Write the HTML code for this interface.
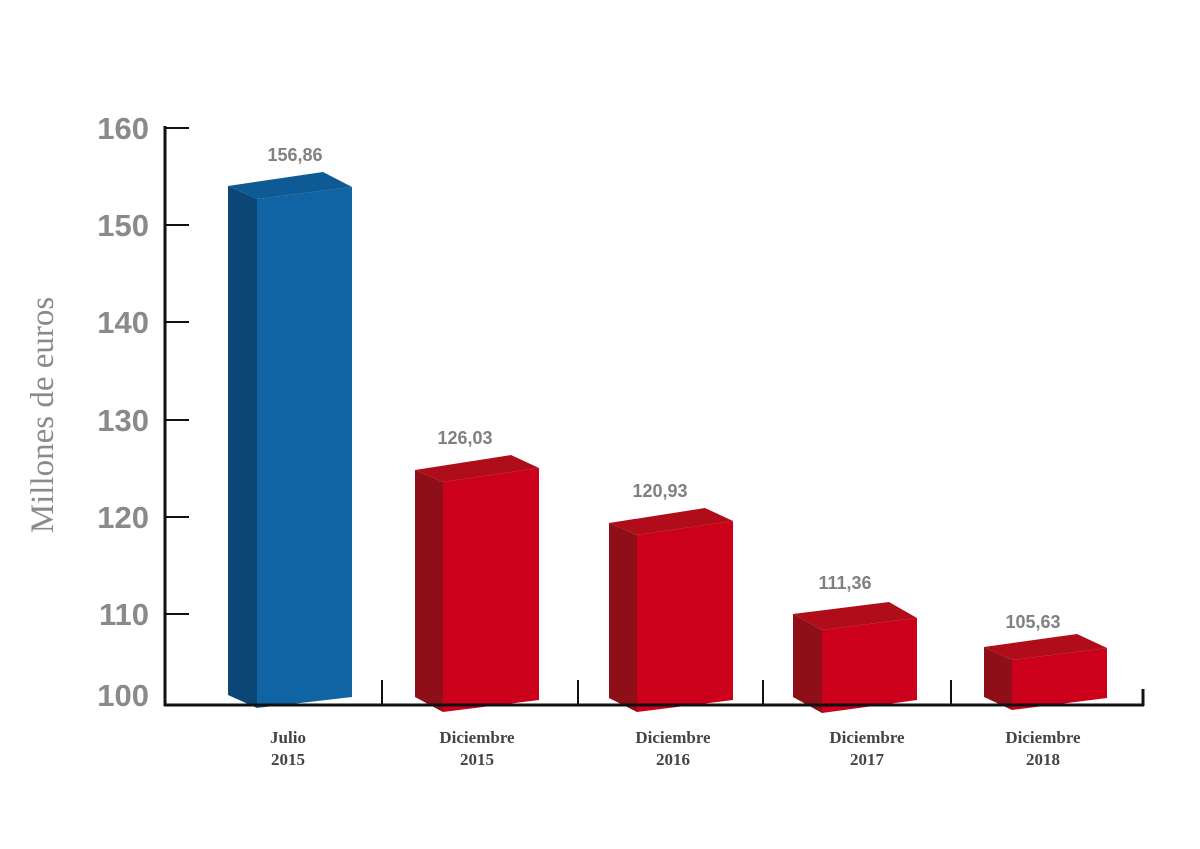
<!DOCTYPE html>
<html><head><meta charset="utf-8"><style>
html,body{margin:0;padding:0;background:#fff;}
svg{display:block;}
</style></head><body>
<svg width="1200" height="849" viewBox="0 0 1200 849" xmlns="http://www.w3.org/2000/svg">
<rect width="1200" height="849" fill="#fff"/>
<polygon points="228,186 257,199 257,708 228,695" fill="#0b4676"/>
<polygon points="257,199 352,187 352,697 257,708" fill="#1064a3"/>
<polygon points="228,186 323,172 352,187 257,199" fill="#0d5a94"/>
<polygon points="415,470 443,482 443,712 415,697" fill="#8e0f18"/>
<polygon points="443,482 539,468 539,700 443,712" fill="#cc001a"/>
<polygon points="415,470 511,455 539,468 443,482" fill="#b00d1a"/>
<polygon points="609,523 637,535 637,712 609,698" fill="#8e0f18"/>
<polygon points="637,535 733,521 733,700 637,712" fill="#cc001a"/>
<polygon points="609,523 705,508 733,521 637,535" fill="#b00d1a"/>
<polygon points="793,614 822,630 822,713 793,697" fill="#8e0f18"/>
<polygon points="822,630 917,618 917,700 822,713" fill="#cc001a"/>
<polygon points="793,614 889,602 917,618 822,630" fill="#b00d1a"/>
<polygon points="984,647 1012,660 1012,710 984,697" fill="#8e0f18"/>
<polygon points="1012,660 1107,648 1107,698 1012,710" fill="#cc001a"/>
<polygon points="984,647 1077,634 1107,648 1012,660" fill="#b00d1a"/>
<g stroke="#111" fill="none">
<line x1="165" y1="126" x2="165" y2="706" stroke-width="3"/>
<line x1="164" y1="705" x2="1144" y2="705" stroke-width="3"/>
<line x1="1143" y1="689" x2="1143" y2="706" stroke-width="3"/>
<g stroke-width="2">
<line x1="165" y1="128" x2="189" y2="128"/>
<line x1="165" y1="225" x2="189" y2="225"/>
<line x1="165" y1="322" x2="189" y2="322"/>
<line x1="165" y1="420" x2="189" y2="420"/>
<line x1="165" y1="517" x2="189" y2="517"/>
<line x1="165" y1="614" x2="189" y2="614"/>
<line x1="382" y1="680" x2="382" y2="705"/>
<line x1="578" y1="680" x2="578" y2="705"/>
<line x1="763" y1="680" x2="763" y2="705"/>
<line x1="951" y1="680" x2="951" y2="705"/>
</g>
</g>
<g font-family="Liberation Sans, sans-serif" font-weight="bold" font-size="31" fill="#8a8a8a" text-anchor="end">
<text x="149" y="139">160</text>
<text x="149" y="236">150</text>
<text x="149" y="333">140</text>
<text x="149" y="431">130</text>
<text x="149" y="528">120</text>
<text x="149" y="625">110</text>
<text x="149" y="706">100</text>
</g>
<text transform="translate(53,415) rotate(-90)" text-anchor="middle" font-family="Liberation Serif, serif" font-size="33" fill="#8a8a8a">Millones de euros</text>
<g font-family="Liberation Sans, sans-serif" font-weight="bold" font-size="18" fill="#808080" text-anchor="middle">
<text x="295" y="161">156,86</text>
<text x="465" y="444">126,03</text>
<text x="660" y="497">120,93</text>
<text x="845" y="589">111,36</text>
<text x="1033" y="628">105,63</text>
</g>
<g font-family="Liberation Serif, serif" font-weight="bold" font-size="17" fill="#444" text-anchor="middle">
<text x="288" y="743">Julio</text><text x="288" y="765">2015</text>
<text x="477" y="743">Diciembre</text><text x="477" y="765">2015</text>
<text x="673" y="743">Diciembre</text><text x="673" y="765">2016</text>
<text x="867" y="743">Diciembre</text><text x="867" y="765">2017</text>
<text x="1043" y="743">Diciembre</text><text x="1043" y="765">2018</text>
</g>
</svg>
</body></html>
